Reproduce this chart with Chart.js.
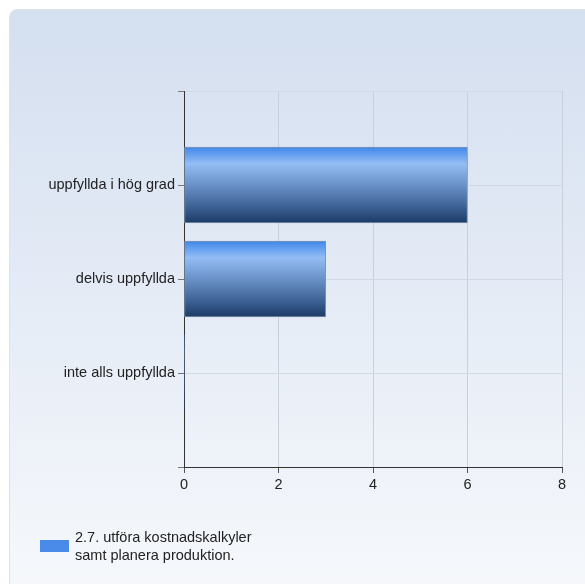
<!DOCTYPE html>
<html>
<head>
<meta charset="utf-8">
<script src="https://cdn.jsdelivr.net/npm/chart.js@4.4.1/dist/chart.umd.min.js"></script>
<style>
  body { margin: 0; background: #fff; font-family: "Liberation Sans", Arial, sans-serif; }
  #wrap { position: relative; width: 585px; height: 584px; overflow: hidden; }
  #panel {
    position: absolute; left: 9px; top: 9px; width: 600px; height: 600px;
    border: 1px solid #dde3ec; border-radius: 8px;
    background: linear-gradient(#d4dff0, #f7f9fc);
  }
  #myChart { position: absolute; left: 0; top: 0; }
  #legend { position: absolute; left: 40px; top: 528px; display: flex; align-items: center; }
  #legend .box { width: 29px; height: 12px; background: #4a8ae8; margin-right: 6px; }
  #legend .txt { font-size: 14.5px; line-height: 18px; color: #222; }
</style>
</head>
<body>
<div id="wrap">
  <div id="panel"></div>
  <canvas id="myChart" width="585" height="584"></canvas>
  <div id="legend"><div class="box"></div><div class="txt" id="legendText"></div></div>
</div>
<script>
const categories = ['uppfyllda i hög grad', 'delvis uppfyllda', 'inte alls uppfyllda'];
const values = [6, 3, 0];
const xTicks = [0, 2, 4, 6, 8];
const seriesName = ['2.7. utföra kostnadskalkyler', 'samt planera produktion.'];

// empty slots above and below so the bars sit like the original
const labels = [''].concat(categories, ['']);
const padded = [null].concat(values, [null]);

document.getElementById('legendText').innerHTML = seriesName.join('<br>');

const barGradient = (ctx) => {
    const chart = ctx.chart;
    if (!chart.chartArea || ctx.dataIndex === undefined) return '#4a8ae8';
    const yc = chart.scales.y.getPixelForValue(ctx.dataIndex);
    const g = chart.ctx.createLinearGradient(0, yc - 38, 0, yc + 38);
    g.addColorStop(0, '#3f86ea');
    g.addColorStop(0.22, '#93bdf4');
    g.addColorStop(0.5, '#6a92c8');
    g.addColorStop(0.8, '#3b5f92');
    g.addColorStop(1, '#1c3a66');
    return g;
}

const tickFont = { family: '"Liberation Sans", Arial', size: 14.5 };

const config = {
    type: 'bar',
    data: {
        labels: labels,
        datasets: [{
            label: seriesName.join(' '),
            data: padded,
            backgroundColor: barGradient,
            borderColor: '#7f93ae',
            borderWidth: (ctx) => (ctx.raw ? 1 : 0),
            borderSkipped: false,
            barThickness: 76
        }]
    },
    options: {
        indexAxis: 'y',
        responsive: false,
        animation: false,
        layout: {
            padding: { top: 91, right: 23, left: 0, bottom: 0 }
        },
        scales: {
            x: {
                min: 0,
                max: 8,
                afterBuildTicks: (scale) => {
                    scale.ticks = xTicks.map(v => ({ value: v }));
                },
                afterFit: (scale) => { scale.height = 117; },
                grid: {
                    color: '#c9d0da',
                    tickColor: '#555',
                    tickLength: 6
                },
                border: { color: '#333', width: 1 },
                ticks: {
                    color: '#222',
                    padding: 3,
                    font: tickFont
                }
            },
            y: {
                type: 'category',
                offset: false,
                afterFit: (scale) => { scale.width = 184; },
                grid: {
                    offset: false,
                    color: '#d3d9e2',
                    tickColor: '#777',
                    tickLength: 6
                },
                border: { color: '#333', width: 1 },
                ticks: {
                    autoSkip: false,
                    color: '#222',
                    padding: 3,
                    font: tickFont
                }
            }
        },
        plugins: {
            legend: { display: false },
            tooltip: { enabled: false }
        }
    }
};

const myChart = new Chart(
    document.getElementById('myChart').getContext('2d'),
    config
);
</script>
</body>
</html>
